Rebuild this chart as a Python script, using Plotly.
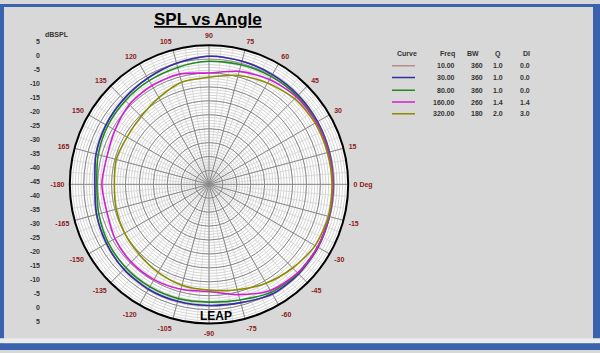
import plotly.graph_objects as go

# ---------------- data ----------------
theta_deg = [0, 15, 30, 45, 60, 75, 90, 105, 120, 135, 150, 165, 180,
             -165, -150, -135, -120, -105, -90, -75, -60, -45, -30, -15, 0]

spl_10 = [-0.4, -0.2, 0.1, 0.4, 0.6, 0.9, 1.1, 0.1, -0.9, -1.6, -2.2, -2.9, -3.9,
          -3.1, -2.4, -1.7, -1.4, -1.4, -1.4, -0.9, 0.6, 0.6, 0.3, -0.2, -0.4]
spl_30 = [-0.5, -0.3, 0.0, 0.3, 0.5, 0.8, 1.0, 0.0, -1.0, -1.7, -2.3, -3.0, -4.0,
          -3.2, -2.5, -1.8, -1.5, -1.5, -1.5, -1.0, 0.5, 0.5, 0.2, -0.3, -0.5]
spl_80 = [-0.5, -0.4, -0.3, -0.2, -0.3, -0.5, -0.8, -1.5, -2.0, -2.5, -3.0, -3.8, -4.7,
          -4.0, -3.2, -2.7, -2.5, -2.5, -2.7, -2.0, -0.3, 0.2, 0.1, -0.3, -0.5]
spl_160 = [-0.5, -0.6, -0.5, -0.6, -1.5, -3.0, -5.0, -4.0, -4.0, -4.5, -6.0, -7.0, -6.5,
           -7.0, -6.0, -5.5, -5.5, -6.0, -6.5, -4.0, -1.0, 0.0, 0.0, -0.4, -0.5]
spl_320 = [-0.8, -1.0, -1.0, -1.5, -3.0, -4.5, -6.5, -7.0, -9.0, -10.5, -11.0, -10.5, -11.0,
           -10.5, -10.0, -9.5, -8.5, -7.5, -7.0, -5.8, -4.0, -2.5, -1.0, -0.6, -0.8]

series = [spl_10, spl_30, spl_80, spl_160, spl_320]
freq_labels = ["10.00", "30.00", "80.00", "160.00", "320.00"]
bw_labels = ["360", "360", "360", "260", "180"]
q_labels = ["1.0", "1.0", "1.0", "1.4", "2.0"]
di_labels = ["0.0", "0.0", "0.0", "1.4", "3.0"]
colors = ["#b88c8c", "#2f2fa8", "#208a20", "#d21ed2", "#8c8c00"]

angle_ticks = list(range(0, 360, 15))
angle_text = ["0 Deg" if a == 0 else str(a if a <= 165 else a - 360) for a in angle_ticks]
radial_major = list(range(-40, 5, 5))
radial_minor = list(range(-44, 5))
left_vals = list(range(-50, 51, 5))
left_text = [str(abs(v) - 45) for v in left_vals]

# ---------------- layout geometry ----------------
W, H = 600, 353
cx, cy, R = 209, 184, 142
dom_x = [(cx - R) / W, (cx + R) / W]
dom_y = [1 - (cy + R) / H, 1 - (cy - R) / H]
RED = "#8b1a1a"
TXT = "#333333"
FONT = "Liberation Sans, Arial, sans-serif"

fig = go.Figure()

# minor grid subplot carrier
fig.add_trace(go.Scatterpolar(r=[-45], theta=[0], mode="markers", marker=dict(opacity=0),
                              subplot="polar", hoverinfo="skip", showlegend=False))

for s, c, f in zip(series, colors, freq_labels):
    fig.add_trace(go.Scatterpolar(r=s, theta=theta_deg, mode="lines", subplot="polar2",
                                  line=dict(color=c, width=1.6, shape="spline", smoothing=0.8),
                                  name=f, showlegend=False))

# carrier for the left dB scale
fig.add_trace(go.Scatter(x=[0], y=[0], mode="markers", marker=dict(opacity=0),
                         hoverinfo="skip", showlegend=False))

fig.update_layout(
    width=W, height=H, margin=dict(l=0, r=0, t=0, b=0),
    paper_bgcolor="#d8d8d8", plot_bgcolor="rgba(0,0,0,0)",
    font=dict(family=FONT, size=7, color=TXT),
    polar=dict(
        domain=dict(x=dom_x, y=dom_y), bgcolor="white",
        radialaxis=dict(range=[-45, 5], tickvals=radial_minor, showticklabels=False, ticks="",
                        gridcolor="#d4d4d4", gridwidth=1, showline=False),
        angularaxis=dict(rotation=0, direction="counterclockwise", tickvals=list(range(0, 360, 5)),
                         showticklabels=False, ticks="", gridcolor="#dedede", showline=False),
    ),
    polar2=dict(
        domain=dict(x=dom_x, y=dom_y), bgcolor="rgba(0,0,0,0)",
        radialaxis=dict(range=[-45, 5], tickvals=radial_major, showticklabels=False, ticks="",
                        gridcolor="#8a8a8a", gridwidth=1, showline=False),
        angularaxis=dict(rotation=0, direction="counterclockwise", tickvals=angle_ticks,
                         ticktext=angle_text, ticks="outside", ticklen=3,
                         tickcolor="rgba(0,0,0,0)", gridcolor="#8a8a8a", gridwidth=1,
                         showline=True, linecolor="black", linewidth=2,
                         tickfont=dict(color=RED, size=7, family=FONT, weight="bold")),
    ),
    xaxis=dict(domain=[41 / W, 46 / W], visible=False, range=[-1, 1]),
    yaxis=dict(domain=[1 - 324 / H, 1 - 38 / H], range=[-50, 50], tickvals=left_vals,
               ticktext=left_text, showgrid=False, zeroline=False, showline=False, ticks="",
               tickfont=dict(size=7, color=TXT, family=FONT, weight="bold")),
)

def px(x):
    return x / W

def py(y):
    return 1 - y / H

def note(x, y, text, anchor, size=7, color=TXT):
    return dict(x=px(x), y=py(y), xref="paper", yref="paper", text=text, showarrow=False,
                xanchor=anchor, yanchor="middle", font=dict(size=size, color=color, family=FONT))

ann = []
ann.append(note(208, 16, "<b><u>SPL vs Angle</u></b>", "center", size=17, color="black"))
ann.append(note(43, 31, "<b>dBSPL</b>", "left"))
ann.append(note(216, 318, "<b>LEAP</b>", "center", size=12, color="black"))

hdr_y = 51
cols = [("Curve", 395, "left"), ("Freq", 457, "right"), ("BW", 481, "right"),
        ("Q", 503, "right"), ("DI", 532, "right")]
for t, x, a in cols:
    ann.append(note(x, hdr_y, "<b>" + t + "</b>", a))
row_y = [63, 75, 88, 100, 112]
shapes = []
for i, yy in enumerate(row_y):
    for t, x in ((freq_labels[i], 457), (bw_labels[i], 485), (q_labels[i], 505), (di_labels[i], 532)):
        ann.append(note(x, yy, "<b>" + t + "</b>", "right"))
    shapes.append(dict(type="line", xref="paper", yref="paper", x0=px(392), x1=px(415),
                       y0=py(yy), y1=py(yy), line=dict(color=colors[i], width=1.5)))

# window frame
BLUE = "#3b62ad"
shapes += [
    dict(type="rect", xref="paper", yref="paper", x0=0, x1=1, y0=py(3), y1=1, fillcolor=BLUE, line_width=0),
    dict(type="rect", xref="paper", yref="paper", x0=0, x1=px(4), y0=py(346), y1=1, fillcolor=BLUE, line_width=0),
    dict(type="rect", xref="paper", yref="paper", x0=px(593), x1=1, y0=py(346), y1=1, fillcolor=BLUE, line_width=0),
    dict(type="rect", xref="paper", yref="paper", x0=0, x1=1, y0=py(341), y1=py(346), fillcolor="#ececec", line_width=0),
    dict(type="rect", xref="paper", yref="paper", x0=0, x1=1, y0=0, y1=py(346), fillcolor=BLUE, line_width=0),
]
fig.update_layout(annotations=ann, shapes=shapes)

fig.write_html("out.html")
